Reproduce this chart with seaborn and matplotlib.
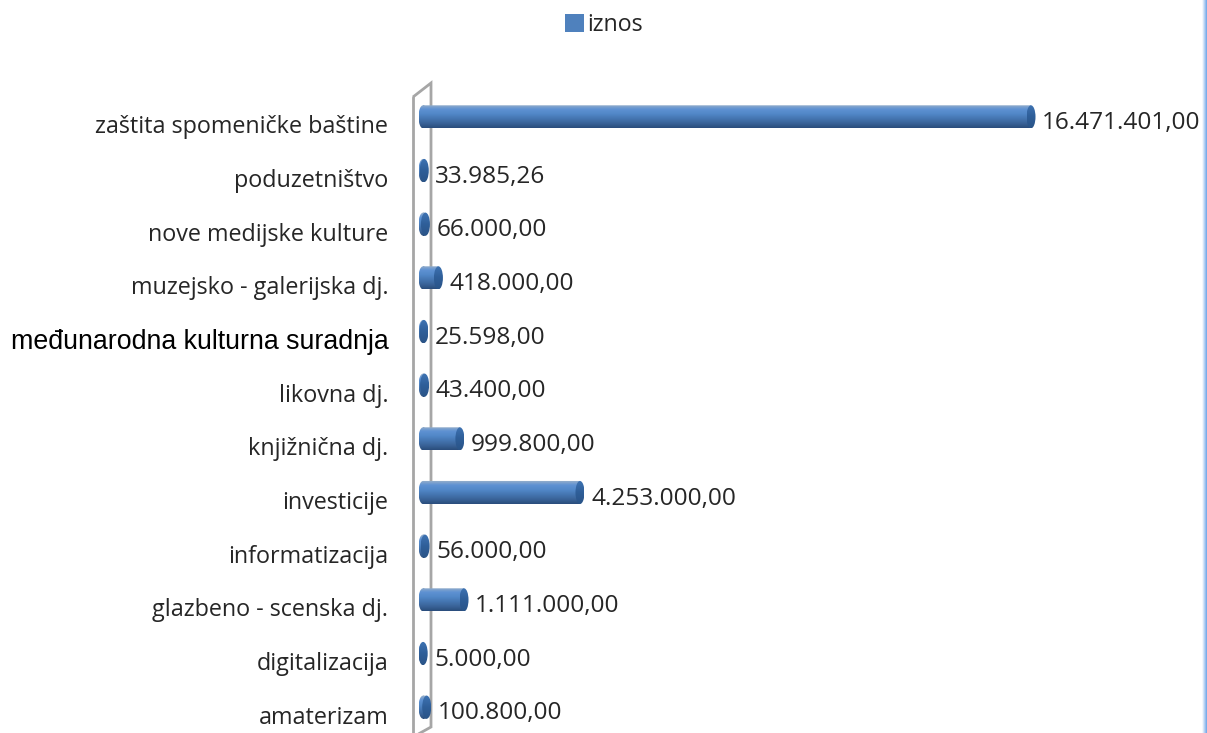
import matplotlib
matplotlib.use('Agg')
import matplotlib.pyplot as plt
from matplotlib.colors import LinearSegmentedColormap
from matplotlib.patches import Ellipse, Polygon, Rectangle
from matplotlib.path import Path
from matplotlib.transforms import ScaledTranslation
import numpy as np
import pandas as pd
import seaborn as sns

categories = ['zaštita spomeničke baštine', 'poduzetništvo', 'nove medijske kulture',
              'muzejsko - galerijska dj.', 'međunarodna kulturna suradnja', 'likovna dj.',
              'knjižnična dj.', 'investicije', 'informatizacija',
              'glazbeno - scenska dj.', 'digitalizacija', 'amaterizam']
iznos = [16471401.00, 33985.26, 66000.00, 418000.00, 25598.00, 43400.00,
         999800.00, 4253000.00, 56000.00, 1111000.00, 5000.00, 100800.00]
value_labels = ['16.471.401,00', '33.985,26', '66.000,00', '418.000,00', '25.598,00', '43.400,00',
                '999.800,00', '4.253.000,00', '56.000,00', '1.111.000,00', '5.000,00', '100.800,00']

W, H = 1207, 733
LEFT, RIGHT, TOP, BOTTOM = 423, 1031, 90, 734   # plot area in pixels
TEXT = '#262626'

sns.set_theme(style='white')
plt.rcParams['font.family'] = ['Open Sans', 'DejaVu Sans']

df = pd.DataFrame({'kategorija': categories, 'iznos': iznos})

fig = plt.figure(figsize=(W / 100, H / 100), dpi=100, facecolor='white')
ax = fig.add_axes([LEFT / W, 1 - BOTTOM / H, (RIGHT - LEFT) / W, (BOTTOM - TOP) / H])
ax.patch.set_alpha(0)

sns.barplot(data=df, x='iznos', y='kategorija', orient='h', width=0.43,
            color='#4F81BD', ax=ax, legend=False)
xmax = max(iznos)
ax.set_xlim(0, xmax)
ax.set_ylim(len(categories) - 0.5, -0.5)
ax.autoscale(False)
px = xmax / (RIGHT - LEFT)   # one pixel in data units

# cilindri: gradijent po visini i elipsa na kraju
body = LinearSegmentedColormap.from_list('body', ['#9DB2C9', '#5F92D3', '#5288C8', '#4576B2', '#3A6499', '#2A4D7C'])
cap = LinearSegmentedColormap.from_list('cap', ['#3F74B4', '#2F5F99', '#2A5488'])
grad = np.linspace(0, 1, 64).reshape(-1, 1)
cap_w = 9 * px
for bar in ax.patches:
    v = bar.get_width()
    y0, h = bar.get_y(), bar.get_height()
    yc = y0 + h / 2
    bar.set_visible(False)
    left = Ellipse((0, yc), cap_w, h)
    right = Ellipse((v, yc), cap_w, h)
    left_cap = left.get_path().transformed(left.get_patch_transform())
    right_cap = right.get_path().transformed(right.get_patch_transform())
    box = Path([(0, y0), (v, y0), (v, y0 + h), (0, y0 + h), (0, y0)], closed=True)
    im = ax.imshow(grad, cmap=body, aspect='auto', zorder=3,
                   extent=(-cap_w / 2, v, y0 + h, y0), interpolation='bilinear')
    im.set_clip_box(fig.bbox)
    im.set_clip_path(Path.make_compound_path(left_cap, box), ax.transData)
    im2 = ax.imshow(grad, cmap=cap, aspect='auto', zorder=4,
                    extent=(v - cap_w / 2, v + cap_w / 2, y0 + h, y0), interpolation='bilinear')
    im2.set_clip_box(fig.bbox)
    im2.set_clip_path(right_cap, ax.transData)

for bar, txt in zip(ax.patches, value_labels):
    ax.annotate(txt, (bar.get_width(), bar.get_y() + bar.get_height() / 2),
                xytext=(8, -4.5), textcoords='offset points', ha='left', va='center',
                fontsize=17.6, color=TEXT, annotation_clip=False)

# oznake kategorija
ax.set_xlabel('')
ax.set_ylabel('')
ax.set_xticks([])
ax.tick_params(axis='y', length=0, pad=25)
shift = ScaledTranslation(0, -5.5 / 72, fig.dpi_scale_trans)
for lab in ax.get_yticklabels():
    lab.set_transform(lab.get_transform() + shift)
    lab.set_color(TEXT)
    lab.set_fontsize(16.8)
    if lab.get_text().startswith('međunarodna'):
        lab.set_family('Liberation Sans')
        lab.set_color('black')
        lab.set_fontsize(19.3)
sns.despine(ax=ax, left=True, bottom=True)

# zid grafikona
wall = [(413, 97), (431, 83), (431, 727), (413, 737)]
fig.add_artist(Polygon([(x / W, 1 - y / H) for x, y in wall], closed=False, fill=False,
                       edgecolor='#A6A6A6', linewidth=2, transform=fig.transFigure, zorder=0))
fig.add_artist(plt.Line2D([413 / W, 413 / W], [1 - 97 / H, 0], color='#A6A6A6', linewidth=2, zorder=0))

# legenda
handle = Rectangle((0, 0), 1, 1, facecolor='#4F81BD', edgecolor='none')
fig.legend([handle], ['iznos'], loc='center', bbox_to_anchor=(604 / W, 1 - 25 / H), frameon=False,
           fontsize=16.7, handlelength=0.8, handleheight=0.8, handletextpad=0.15, labelcolor=TEXT)

# rub prozora
edge = LinearSegmentedColormap.from_list('edge', ['#FFFFFF', '#6FA5E8'])
bg = fig.add_axes([1202 / W, 0, 5 / W, 1])
bg.imshow(np.linspace(0, 1, 16).reshape(1, -1), cmap=edge, aspect='auto')
bg.axis('off')

fig.savefig('out.png', dpi=100)
